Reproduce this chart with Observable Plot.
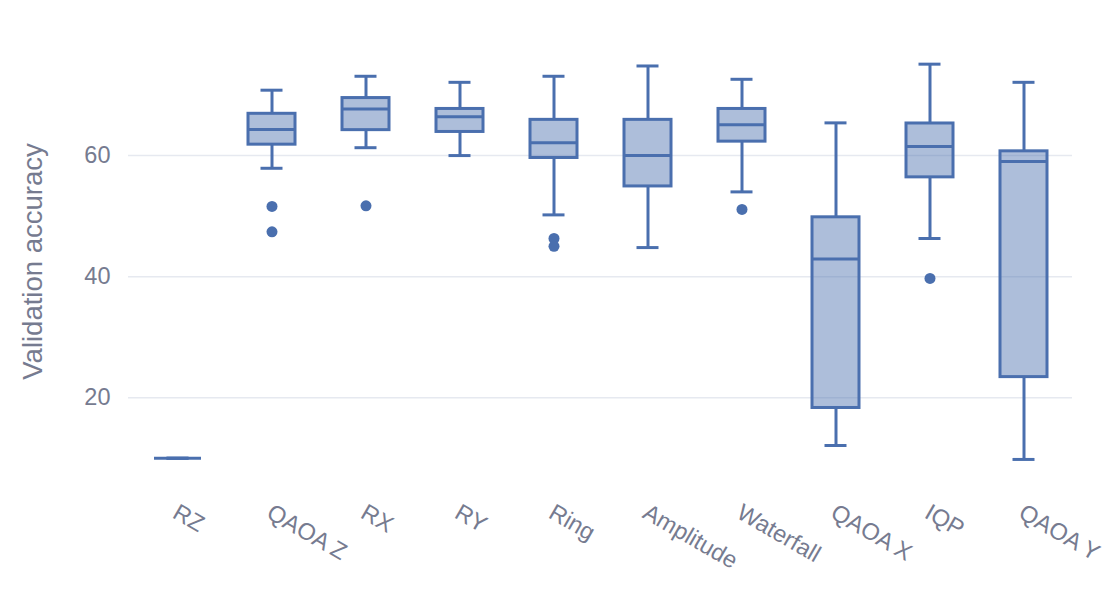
<!DOCTYPE html>
<html>
<head>
<meta charset="utf-8">
<script src="https://cdn.jsdelivr.net/npm/d3@7"></script>
<script src="https://cdn.jsdelivr.net/npm/@observablehq/plot@0.6"></script>
<style>
  html, body { margin: 0; padding: 0; background: #fff; }
  #chart { width: 1112px; height: 590px; }
</style>
</head>
<body>
<div id="chart"></div>
<script>
const categories = ["RZ", "QAOA Z", "RX", "RY", "Ring", "Amplitude", "Waterfall", "QAOA X", "IQP", "QAOA Y"];
const lowerWhisker = [10, 57.9, 61.3, 60.0, 50.2, 44.8, 54.0, 12.1, 46.3, 9.8];
const q1 = [10, 61.8, 64.2, 63.9, 59.6, 54.9, 62.3, 18.3, 56.4, 23.4];
const median = [10, 64.3, 67.7, 66.4, 62.1, 60.0, 65.1, 42.9, 61.5, 59.0];
const q3 = [10, 66.9, 69.5, 67.7, 65.9, 65.9, 67.7, 49.8, 65.3, 60.7];
const upperWhisker = [10, 70.8, 73.1, 72.1, 73.1, 74.8, 72.6, 65.4, 75.1, 72.1];
const outlierCategory = ["QAOA Z", "QAOA Z", "RX", "Ring", "Ring", "Waterfall", "IQP"];
const outlierValue = [51.6, 47.4, 51.7, 46.3, 45.0, 51.1, 39.7];
const yTicks = [20, 40, 60];

const rows = categories.map((c, i) => ({
  cat: c, lo: lowerWhisker[i], q1: q1[i], med: median[i], q3: q3[i], hi: upperWhisker[i]
}));
const outliers = outlierCategory.map((c, i) => ({cat: c, v: outlierValue[i]}));

const blue = "#4a6fae";
const textColor = "#767b90";
const capInset = 12.5;

const chart = Plot.plot({
  width: 1112,
  height: 590,
  marginLeft: 128,
  marginRight: 40,
  marginTop: 34,
  marginBottom: 102,
  style: {fontFamily: "'Liberation Sans', Arial, Helvetica, sans-serif", background: "#fff"},
  x: {domain: categories, paddingInner: 0.5, paddingOuter: 0.25},
  y: {domain: [5, 80]},
  marks: [
    Plot.gridY(yTicks, {stroke: "#e6e9f0", strokeOpacity: 1, strokeWidth: 1.5}),
    Plot.axisY(yTicks, {tickSize: 0, tickPadding: 18, fontSize: 23.5, color: textColor, label: null}),
    Plot.axisX({tickRotate: 30, tickSize: 0, tickPadding: 22, dx: -3, fontSize: 23.5, color: textColor, label: null}),
    Plot.text(["Validation accuracy"], {text: d => d, frameAnchor: "left", textAnchor: "middle", rotate: -90, dx: -95, fontSize: 27.5, fill: textColor}),
    Plot.ruleX(rows, {x: "cat", y1: "lo", y2: "q1", stroke: blue, strokeWidth: 3}),
    Plot.ruleX(rows, {x: "cat", y1: "q3", y2: "hi", stroke: blue, strokeWidth: 3}),
    Plot.tickY(rows, {x: "cat", y: "lo", stroke: blue, strokeWidth: 3, insetLeft: capInset, insetRight: capInset}),
    Plot.tickY(rows, {x: "cat", y: "hi", stroke: blue, strokeWidth: 3, insetLeft: capInset, insetRight: capInset}),
    Plot.barY(rows, {x: "cat", y1: "q1", y2: "q3", fill: blue, fillOpacity: 0.45, stroke: blue, strokeWidth: 3}),
    Plot.tickY(rows, {x: "cat", y: "med", stroke: blue, strokeWidth: 3}),
    Plot.dot(outliers, {x: "cat", y: "v", r: 5.5, fill: blue, stroke: "none"})
  ]
});
document.getElementById("chart").appendChild(chart);
</script>
</body>
</html>
